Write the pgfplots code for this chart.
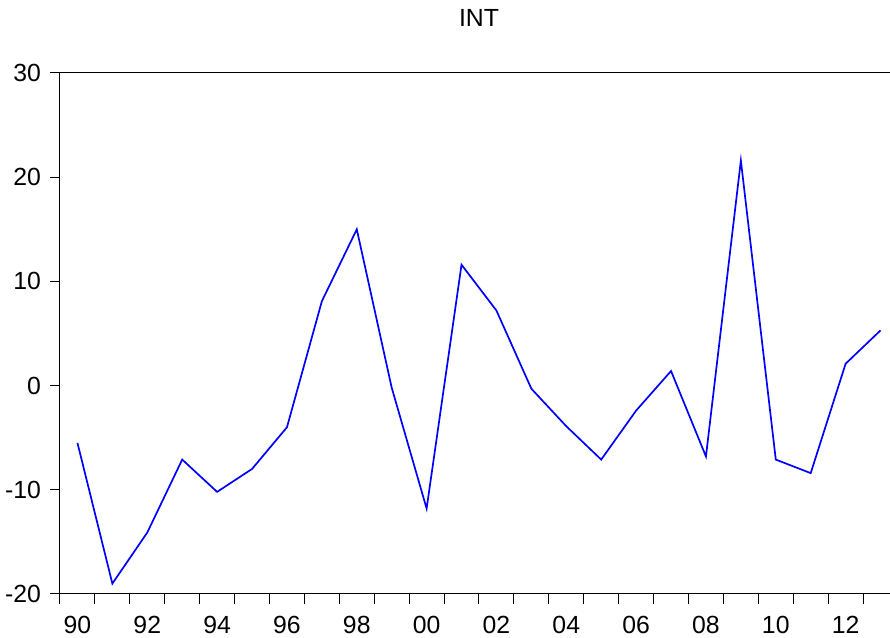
\documentclass[border=0pt]{standalone}
\usepackage{pgfplots}
\pgfplotsset{compat=1.18}
\usepackage{fontspec}
\setmainfont{Liberation Sans}
\begin{document}
\begin{tikzpicture}
\begin{axis}[
  at={(0,0)}, anchor=south west,
  scale only axis,
  width=419pt, height=260.5pt,
  xmin=1989.5, xmax=2013.5,
  ymin=-20, ymax=30,
  axis x line=bottom, axis y line=left,
  axis line style={-, line width=0.5pt, black},
  ytick={-20,-10,0,10,20,30},
  yticklabels={-20,-10,0,10,20,30},
  xtick={1989.5,1990.5,...,2013.5},
  xticklabels={},
  extra x ticks={1990,1992,1994,1996,1998,2000,2002,2004,2006,2008,2010,2012},
  extra x tick labels={90,92,94,96,98,00,02,04,06,08,10,12},
  extra x tick style={tick style={draw=none}},
  tick align=outside,
  tick style={line width=0.5pt, black},
  major tick length=5pt,
  tick label style={font=\fontsize{12.4}{14}\selectfont},
  xticklabel style={yshift=-2.5pt},
  yticklabel style={xshift=-1pt},
  clip=false,
]
\addplot[blue, line width=0.85pt] coordinates {
(1990,-5.5) (1991,-19.0) (1992,-14.1) (1993,-7.1) (1994,-10.2) (1995,-8.0)
(1996,-4.0) (1997,8.1) (1998,15.0) (1999,-0.2) (2000,-11.8) (2001,11.6)
(2002,7.2) (2003,-0.3) (2004,-3.9) (2005,-7.1) (2006,-2.4) (2007,1.4)
(2008,-6.8) (2009,21.6) (2010,-7.1) (2011,-8.4) (2012,2.1) (2013,5.3)
};
\draw[line width=0.5pt] (rel axis cs:0,1) -- (rel axis cs:1,1);
\end{axis}
\node[font=\fontsize{12.4}{14}\selectfont] at (209.5pt,288pt) {INT};
\pgfresetboundingbox
\useasboundingbox (-30pt,-22pt) rectangle (415pt,297pt);
\end{tikzpicture}
\end{document}
